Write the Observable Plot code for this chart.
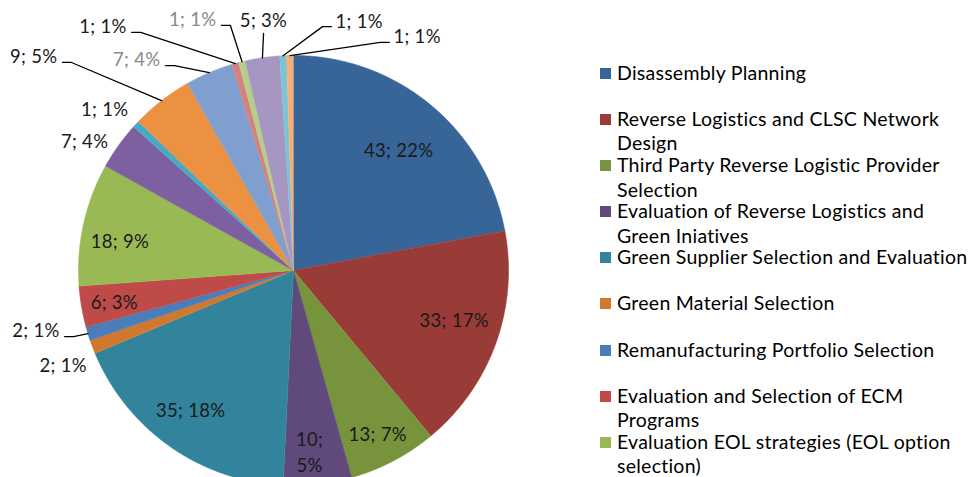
<!DOCTYPE html>
<html><head><meta charset="utf-8">
<script src="https://cdn.jsdelivr.net/npm/d3@7"></script>
<script src="https://cdn.jsdelivr.net/npm/@observablehq/plot@0.6"></script>
<style>
body{margin:0;background:#fff;font-family:Lato,sans-serif;}
#wrap{position:relative;width:971px;height:477px;overflow:hidden;background:#fff;}
#chart{position:absolute;left:0;top:0;}
#legend{position:absolute;left:600px;top:0;width:371px;height:477px;}
.item{position:absolute;left:0;width:371px;display:flex;align-items:flex-start;font-size:19.5px;letter-spacing:0.25px;line-height:24.5px;color:#000;}
.sw{width:11px;height:11px;margin-top:7px;margin-right:6px;flex:none;}
.tx{width:354px;}
</style></head><body><div id="wrap"><div id="chart"></div><div id="legend"></div></div>
<script>
// ---- data ----
const categories = [
  "Disassembly Planning",
  "Reverse Logistics and CLSC Network Design",
  "Third Party Reverse Logistic Provider Selection",
  "Evaluation of Reverse Logistics and Green Iniatives",
  "Green Supplier Selection and Evaluation",
  "Green Material Selection",
  "Remanufacturing Portfolio Selection",
  "Evaluation and Selection of ECM Programs",
  "Evaluation EOL strategies (EOL option selection)",
  "Category 10", "Category 11", "Category 12", "Category 13",
  "Category 14", "Category 15", "Category 16", "Category 17", "Category 18"
];
const values = [43, 33, 13, 10, 35, 2, 2, 6, 18, 7, 1, 9, 7, 1, 1, 5, 1, 1];
const legendShown = 9;

// ---- styles / layout (not data) ----
const colors = ["#386598","#993B37","#77933C","#604A7B","#31849B","#D0782E","#4A7EBB","#BE4B48","#98B954",
                "#7D60A0","#46AAC5","#EB9141","#7F9FCE","#D3827F","#B5CE8C","#A696C2","#7CC3D8","#F6AE78"];
const labelTone = ["#1a1a1a","#1a1a1a","#1a1a1a","#1a1a1a","#1a1a1a","#1a1a1a","#1a1a1a","#1a1a1a","#1a1a1a",
                   "#1a1a1a","#1a1a1a","#1a1a1a","#888888","#1a1a1a","#888888","#1a1a1a","#1a1a1a","#1a1a1a"];
// label placement in polar form: [angle (deg, clockwise from top), radius (fraction of pie radius)], plus kind
const labelPlace = [
  [40.7,0.75,"in"],[106.7,0.78,"in"],[152.6,0.85,"in"],[174.9,0.84,"in"],[216.7,0.80,"in"],
  [248.0,1.155,"out"],[253.9,1.108,"left"],[260.5,0.845,"in"],[280.0,0.82,"in"],
  [302.1,1.147,"out"],[310.8,1.16,"out"],[312.0,1.446,"left"],[328.0,1.124,"left"],
  [325.8,1.339,"left"],[343.6,1.188,"left"],[352.8,1.111,"top"],[8.85,1.148,"right"],[22.8,1.151,"right"]
];
const wrapLabel = [false,false,false,true,false,false,false,false,false,false,false,false,false,false,false,false,false,false];

const cx = 293, cy = 270, R = 215;
const total = d3.sum(values);
const arcs = d3.pie().sort(null).value(d => d)(values);

// slice polygons
const slicePts = [];
arcs.forEach((a, i) => {
  slicePts.push({i, x: 0, y: 0});
  const n = Math.max(2, Math.ceil((a.endAngle - a.startAngle) / 0.005));
  for (let k = 0; k <= n; k++) {
    const t = a.startAngle + (a.endAngle - a.startAngle) * k / n;
    slicePts.push({i, x: Math.sin(t), y: Math.cos(t)});
  }
});

const rad = d => d * Math.PI / 180;
const labels = values.map((v, i) => {
  const [ang, r, kind] = labelPlace[i];
  const pct = Math.round(v / total * 100);
  const text = wrapLabel[i] ? `${v};\n${pct}%` : `${v}; ${pct}%`;
  return {i, kind, text, x: r * Math.sin(rad(ang)), y: r * Math.cos(rad(ang)), tone: labelTone[i]};
});

// leader lines
const elbow = 9 / R;
const leaders = [];
labels.forEach(l => {
  if (!["left","right","top"].includes(l.kind)) return;
  const a = arcs[l.i];
  const mid = (a.startAngle + a.endAngle) / 2;
  leaders.push({i: l.i, x: Math.sin(mid), y: Math.cos(mid)});
  if (l.kind === "left") leaders.push({i: l.i, x: l.x + elbow, y: l.y});
  if (l.kind === "right") leaders.push({i: l.i, x: l.x - elbow, y: l.y});
  leaders.push({i: l.i, x: l.x, y: l.y});
});

const font = {fontSize: 18.5, fontFamily: "Lato, sans-serif", style: {letterSpacing: "0.3px"}};
const plot = Plot.plot({
  width: 590, height: 477, margin: 0,
  x: {domain: [-1, 1], range: [cx - R, cx + R], axis: null},
  y: {domain: [-1, 1], range: [cy + R, cy - R], axis: null},
  color: {type: "identity"},
  style: {background: "transparent", overflow: "visible", letterSpacing: "0.3px"},
  marks: [
    Plot.line(slicePts, {x: "x", y: "y", z: "i", fill: d => colors[d.i], stroke: d => colors[d.i], strokeWidth: 0.6, curve: "linear"}),
    Plot.line(leaders, {x: "x", y: "y", z: "i", stroke: "#000", strokeWidth: 1.3}),
    Plot.text(labels.filter(l => l.kind === "in" || l.kind === "out"), {x: "x", y: "y", text: "text", fill: "tone", lineHeight: 1.42, fontSize: 18.5, fontFamily: "Lato, sans-serif"}),
    Plot.text(labels.filter(l => l.kind === "left"), {x: "x", y: "y", text: "text", fill: "tone", textAnchor: "end", dx: -5, dy: -5, fontSize: 18.5, fontFamily: "Lato, sans-serif"}),
    Plot.text(labels.filter(l => l.kind === "right"), {x: "x", y: "y", text: "text", fill: "tone", textAnchor: "start", dx: 4, dy: -5, fontSize: 18.5, fontFamily: "Lato, sans-serif"}),
    Plot.text(labels.filter(l => l.kind === "top"), {x: "x", y: "y", text: "text", fill: "tone", dy: -12, fontSize: 18.5, fontFamily: "Lato, sans-serif"})
  ]
});
document.getElementById("chart").append(plot);

// legend (first entries, as visible in the reference)
const legend = document.getElementById("legend");
categories.slice(0, legendShown).forEach((c, i) => {
  const item = document.createElement("div");
  item.className = "item";
  item.style.top = (73 - 12.25 + i * 46.125) + "px";
  const sw = document.createElement("span");
  sw.className = "sw";
  sw.style.background = colors[i];
  const tx = document.createElement("span");
  tx.className = "tx";
  tx.textContent = c;
  item.append(sw, tx);
  legend.append(item);
});
</script>
</body></html>
